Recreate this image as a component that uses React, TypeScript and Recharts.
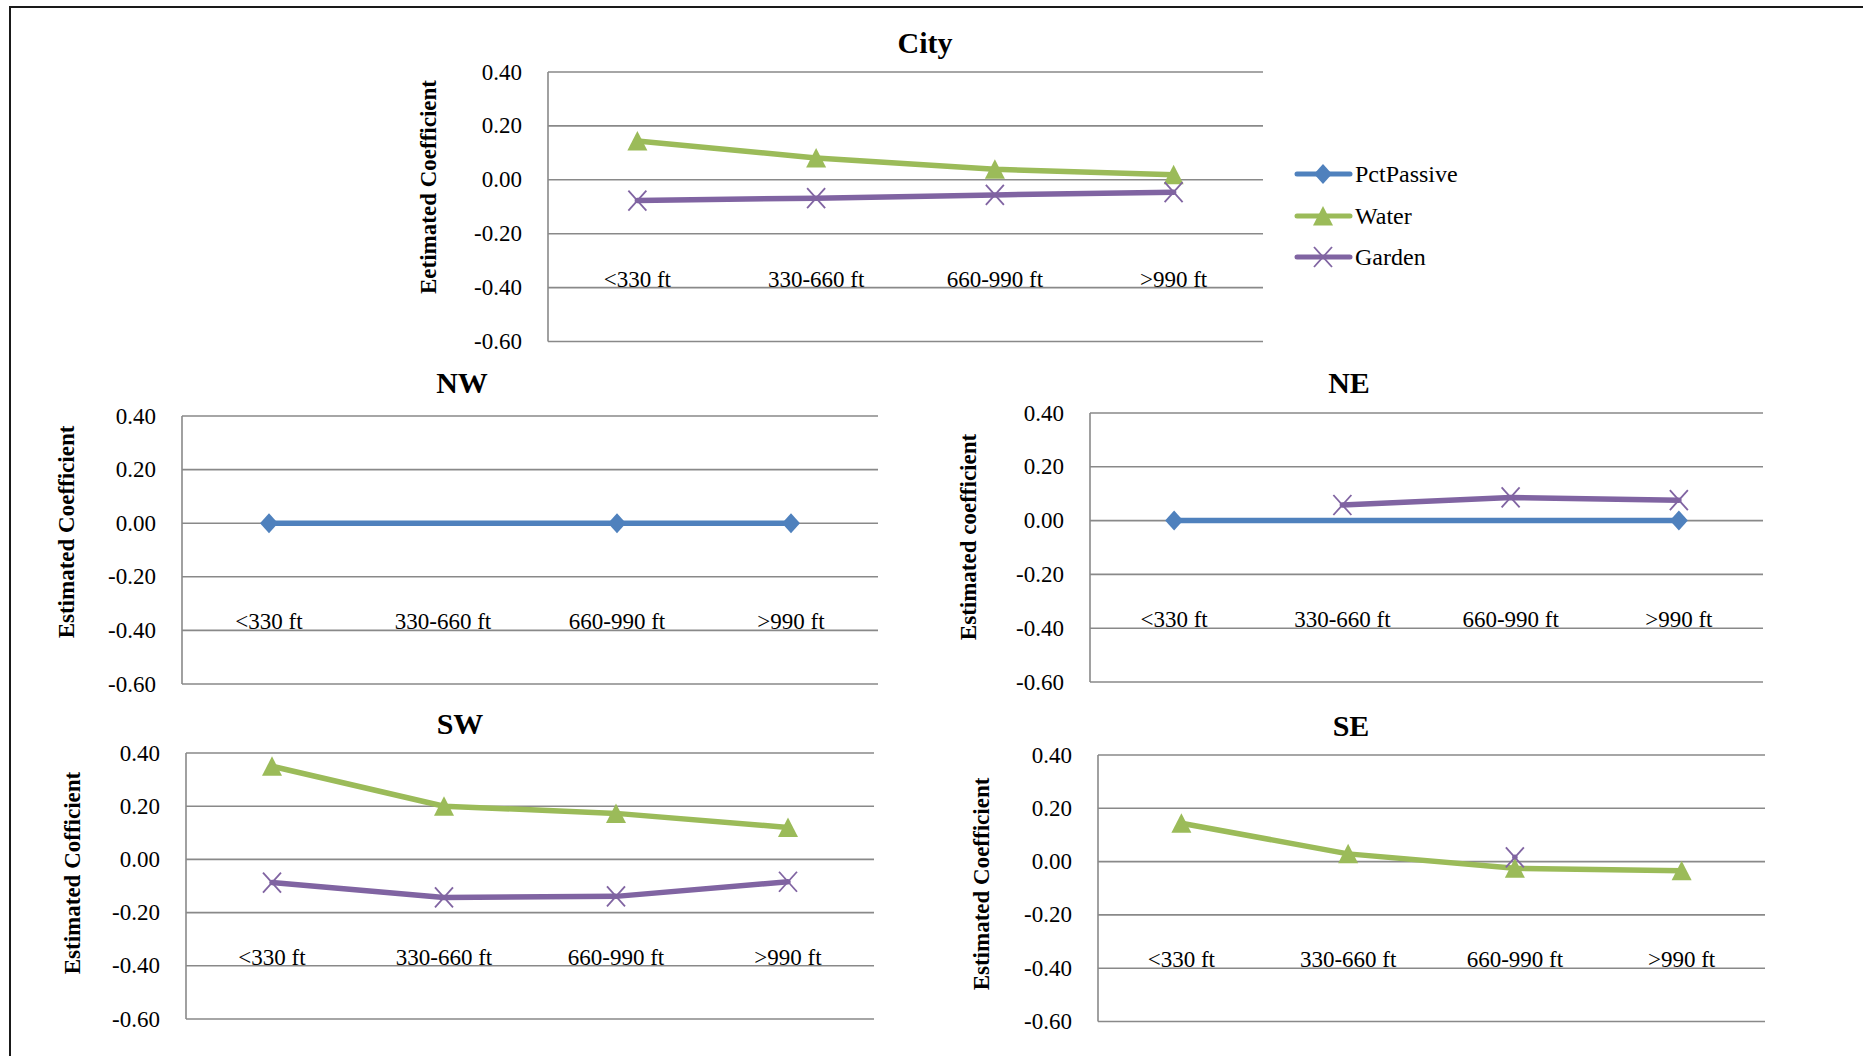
import React from 'react';
import { LineChart, Line, XAxis, YAxis, CartesianGrid } from 'recharts';

const FONT = '"Liberation Serif", "Times New Roman", serif';
const BLUE = '#4F81BD';
const GREEN = '#9BBB59';
const PURPLE = '#8064A2';
const GRID = '#898989';

// distance bands on the x axis
const categories = ['<330 ft', '330-660 ft', '660-990 ft', '>990 ft'];
const yTicks = [-0.6, -0.4, -0.2, 0, 0.2, 0.4];
const Y_MIN = -0.6;
const Y_MAX = 0.4;
const LABEL_LEVEL = -0.4; // category labels sit on this gridline

const seriesNames = ['PctPassive', 'Water', 'Garden'];

// City
const cityPctPassive = [null, null, null, null];
const cityWater = [0.144, 0.081, 0.039, 0.019];
const cityGarden = [-0.077, -0.068, -0.056, -0.046];

// NW
const nwPctPassive = [0, null, 0, 0];
const nwWater = [null, null, null, null];
const nwGarden = [null, null, null, null];

// NE
const nePctPassive = [0, null, null, 0];
const neWater = [null, null, null, null];
const neGarden = [null, 0.058, 0.086, 0.076];

// SW
const swPctPassive = [null, null, null, null];
const swWater = [0.35, 0.2, 0.173, 0.12];
const swGarden = [-0.087, -0.143, -0.139, -0.084];

// SE
const sePctPassive = [null, null, null, null];
const seWater = [0.144, 0.029, -0.025, -0.034];
const seGarden = [null, null, 0.016, null];

const toRows = (p: any[], w: any[], g: any[]) =>
  categories.map((c, i) => ({ cat: c, PctPassive: p[i], Water: w[i], Garden: g[i] }));

// markers
const Diamond = ({ cx, cy }: any) => (
  <path d={`M${cx},${cy - 10} L${cx + 9},${cy} L${cx},${cy + 10} L${cx - 9},${cy} Z`} fill={BLUE} />
);
const Triangle = ({ cx, cy }: any) => (
  <path d={`M${cx},${cy - 10} L${cx + 10},${cy + 9.5} L${cx - 10},${cy + 9.5} Z`} fill={GREEN} />
);
const Cross = ({ cx, cy }: any) => (
  <g stroke={PURPLE} strokeWidth={1.8}>
    <line x1={cx - 9} y1={cy - 10} x2={cx + 9} y2={cy + 10} />
    <line x1={cx - 9} y1={cy + 10} x2={cx + 9} y2={cy - 10} />
  </g>
);

const markerFor: any = { PctPassive: Diamond, Water: Triangle, Garden: Cross };
const colorFor: any = { PctPassive: BLUE, Water: GREEN, Garden: PURPLE };

const makeDot = (name: string) => (p: any) => {
  const M = markerFor[name];
  if (p.cy == null || p.value == null) return <g key={`e-${p.index}`} />;
  return <M key={`d-${p.index}`} cx={p.cx} cy={p.cy} />;
};

const ValTick = ({ x, y, payload }: any) => (
  <text x={x} y={y} textAnchor="end" dominantBaseline="central" fontSize={23} fontFamily={FONT} fill="#000">
    {Number(payload.value).toFixed(2)}
  </text>
);

const Panel = ({ box, data }: any) => {
  const YW = 120;
  const XH = 10;
  const margin = { top: 24, right: 10, bottom: 20, left: 0 };
  const plotW = box.r - box.l;
  const plotH = box.b - box.t;
  const width = plotW + YW + margin.right;
  const height = plotH + XH + margin.top + margin.bottom;
  const lift = ((LABEL_LEVEL - Y_MIN) / (Y_MAX - Y_MIN)) * plotH;
  // points sit in the middle of each category band
  const pad = plotW / (categories.length * 2);

  const CatTick = ({ x, y, payload }: any) => (
    <text x={x} y={y - lift - 1} textAnchor="middle" fontSize={23} fontFamily={FONT} fill="#000">
      {payload.value}
    </text>
  );

  return (
    <div style={{ position: 'absolute', left: box.l - YW, top: box.t - margin.top }}>
      <LineChart width={width} height={height} data={data} margin={margin}>
        <CartesianGrid vertical={false} stroke={GRID} strokeWidth={1.6} />
        <XAxis
          dataKey="cat"
          height={XH}
          padding={{ left: pad, right: pad }}
          axisLine={false}
          tickLine={false}
          tickSize={0}
          tickMargin={0}
          interval={0}
          tick={<CatTick />}
        />
        <YAxis
          width={YW}
          domain={[Y_MIN, Y_MAX]}
          ticks={yTicks}
          type="number"
          axisLine={{ stroke: GRID, strokeWidth: 1.6 }}
          tickLine={false}
          tickSize={0}
          tickMargin={26}
          tick={<ValTick />}
        />
        {seriesNames.map((n) => (
          <Line
            key={n}
            type="linear"
            dataKey={n}
            stroke={colorFor[n]}
            strokeWidth={5.5}
            strokeLinecap="round"
            strokeLinejoin="round"
            connectNulls
            dot={makeDot(n)}
            activeDot={false}
            isAnimationActive={false}
          />
        ))}
      </LineChart>
    </div>
  );
};

const panels = [
  { key: 'city', box: { l: 548, t: 71.5, r: 1263, b: 341 }, title: 'City', tx: 925, ty: 42, yTitle: 'Eetimated Coefficient', yx: 428, yy: 187, data: toRows(cityPctPassive, cityWater, cityGarden) },
  { key: 'nw', box: { l: 181.5, t: 415.5, r: 877.5, b: 683.5 }, title: 'NW', tx: 462, ty: 382, yTitle: 'Estimated Coefficient', yx: 66, yy: 532, data: toRows(nwPctPassive, nwWater, nwGarden) },
  { key: 'ne', box: { l: 1090, t: 412.5, r: 1763, b: 681.5 }, title: 'NE', tx: 1349, ty: 382, yTitle: 'Estimated coefficient', yx: 968, yy: 537, data: toRows(nePctPassive, neWater, neGarden) },
  { key: 'sw', box: { l: 186, t: 752.5, r: 874, b: 1018.5 }, title: 'SW', tx: 460, ty: 723, yTitle: 'Estimated Cofficient', yx: 72, yy: 873, data: toRows(swPctPassive, swWater, swGarden) },
  { key: 'se', box: { l: 1097.5, t: 755, r: 1764.5, b: 1021.5 }, title: 'SE', tx: 1351, ty: 725, yTitle: 'Estimated Coefficient', yx: 981, yy: 884, data: toRows(sePctPassive, seWater, seGarden) },
];

const legendRows = [
  { name: 'PctPassive', y: 174 },
  { name: 'Water', y: 216 },
  { name: 'Garden', y: 257 },
];

export default function App() {
  return (
    <div style={{ position: 'absolute', left: 0, top: 0, width: 1863, height: 1056, background: '#fff', overflow: 'hidden', fontFamily: FONT }}>
      {/* outer frame */}
      <div style={{ position: 'absolute', left: 9, top: 6, width: 1900, height: 1100, borderLeft: '2px solid #1a1a1a', borderTop: '2px solid #1a1a1a' }} />
      {panels.map((p) => (
        <Panel key={p.key} box={p.box} data={p.data} />
      ))}
      <svg width={1863} height={1056} style={{ position: 'absolute', left: 0, top: 0, pointerEvents: 'none' }}>
        {panels.map((p) => (
          <g key={p.key}>
            <text x={p.tx} y={p.ty} textAnchor="middle" dominantBaseline="central" fontSize={30} fontWeight="bold" fontFamily={FONT} fill="#000">
              {p.title}
            </text>
            <text
              x={p.yx}
              y={p.yy}
              textAnchor="middle"
              dominantBaseline="central"
              fontSize={23}
              fontWeight="bold"
              fontFamily={FONT}
              fill="#000"
              transform={`rotate(-90 ${p.yx} ${p.yy})`}
            >
              {p.yTitle}
            </text>
          </g>
        ))}
        {legendRows.map((r) => {
          const M = markerFor[r.name];
          return (
            <g key={r.name}>
              <line x1={1297} y1={r.y} x2={1350} y2={r.y} stroke={colorFor[r.name]} strokeWidth={5} strokeLinecap="round" />
              <M cx={1323} cy={r.y} />
              <text x={1355} y={r.y} dominantBaseline="central" fontSize={24} fontFamily={FONT} fill="#000">
                {r.name}
              </text>
            </g>
          );
        })}
      </svg>
    </div>
  );
}
